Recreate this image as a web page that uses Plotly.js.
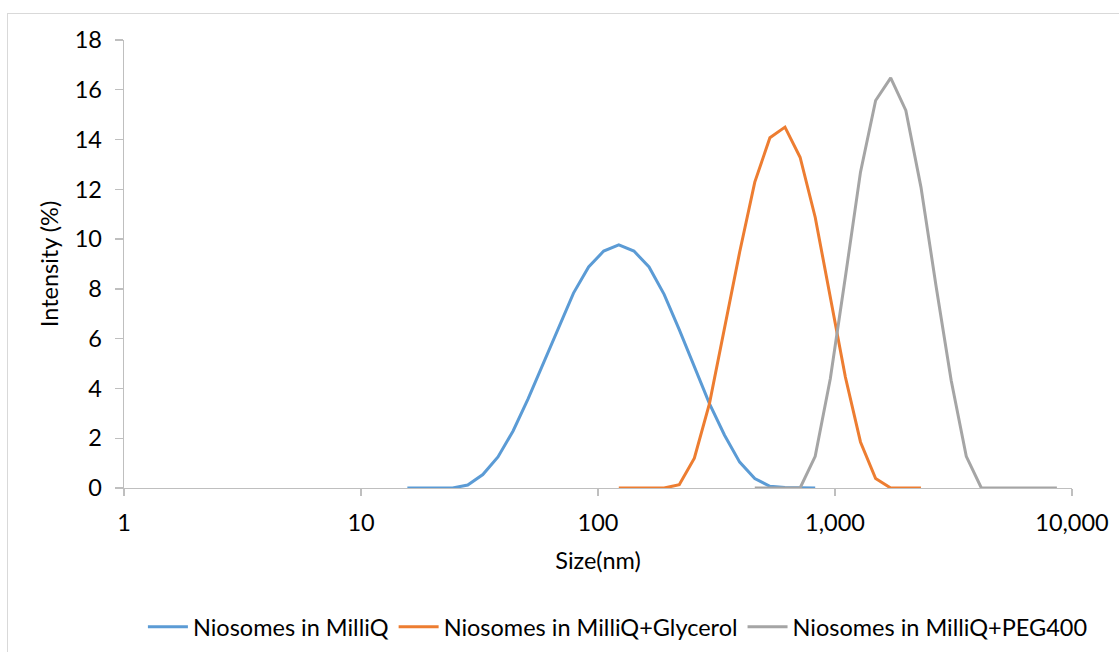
<!DOCTYPE html>
<html>
<head>
<meta charset="utf-8">
<script src="https://cdn.plot.ly/plotly-3.0.1.min.js"></script>
<style>
html,body{margin:0;padding:0;background:#fff;overflow:hidden;}
#chart{width:1119px;height:652px;}
#frame{position:absolute;left:7px;top:13px;width:1200px;height:800px;border:1px solid #d9d9d9;pointer-events:none;box-sizing:border-box;}
</style>
</head>
<body>
<div id="chart"></div>
<div id="frame"></div>
<script>
// Malvern size bins (nm)
const sizesBlue = [15.69,18.17,21.04,24.36,28.21,32.67,37.84,43.82,50.75,58.77,68.06,78.82,91.28,105.7,122.4,141.8,164.2,190.1,220.2,255.0,295.3,342.0,396.1,458.7,531.2,615.1,712.4,825.0];
const intensityBlue = [0,0,0,0,0.12,0.54,1.25,2.29,3.59,5.0,6.4,7.83,8.88,9.52,9.77,9.52,8.88,7.78,6.36,4.86,3.39,2.12,1.04,0.38,0.07,0.02,0,0];

const sizesOrange = [122.4,141.8,164.2,190.1,220.2,255.0,295.3,342.0,396.1,458.7,531.2,615.1,712.4,825.0,955.4,1106,1281,1484,1718,1990,2305];
const intensityOrange = [0,0,0,0,0.13,1.2,3.39,6.4,9.48,12.29,14.07,14.5,13.29,10.88,7.66,4.46,1.85,0.38,0,0,0];

const sizesGray = [458.7,531.2,615.1,712.4,825.0,955.4,1106,1281,1484,1718,1990,2305,2669,3091,3580,4145,4801,5560,6439,7456,8635];
const intensityGray = [0,0,0,0,1.27,4.39,8.48,12.69,15.57,16.48,15.17,12.09,8.12,4.33,1.27,0,0,0,0,0,0];

const names = ["Niosomes in MilliQ","Niosomes in MilliQ+Glycerol","Niosomes in MilliQ+PEG400"];
const colors = ["#5b9bd5","#ed7d31","#a5a5a5"];

const xTickVals = [1,10,100,1000,10000];
const xTickText = ["1","10","100","1,000","10,000"];

const FONT = "Lato, 'Open Sans', sans-serif";
const FS = 23.5;

const traces = [
  {x:sizesBlue,y:intensityBlue,name:names[0]},
  {x:sizesOrange,y:intensityOrange,name:names[1]},
  {x:sizesGray,y:intensityGray,name:names[2]}
].map((t,i)=>Object.assign(t,{type:"scatter",mode:"lines",line:{color:colors[i],width:3},hoverinfo:"x+y"}));

const layout = {
  width:1119,height:652,
  paper_bgcolor:"#ffffff",plot_bgcolor:"#ffffff",
  margin:{l:124,r:47,t:40,b:164,autoexpand:false},
  font:{family:FONT,size:FS,color:"#000"},
  showlegend:true,
  legend:{orientation:"h",x:0.521,xanchor:"center",y:-0.31,yanchor:"middle",font:{family:FONT,size:FS,color:"#000"},itemwidth:40,tracegroupgap:0},
  xaxis:{type:"log",range:[0,4],tickvals:xTickVals,ticktext:xTickText,showgrid:false,zeroline:false,
    showline:true,linecolor:"#bfbfbf",linewidth:1.3,ticks:"outside",ticklen:7,tickcolor:"#bfbfbf",tickwidth:1.3,
    ticklabelstandoff:6,automargin:false,
    tickfont:{family:FONT,size:FS,color:"#000"},
    title:{text:"Size(nm)",font:{family:FONT,size:FS,color:"#000"},standoff:18}},
  yaxis:{range:[0,18],dtick:2,tick0:0,showgrid:false,zeroline:false,
    showline:true,linecolor:"#bfbfbf",linewidth:1.3,ticks:"outside",ticklen:8,tickcolor:"#bfbfbf",tickwidth:1.3,
    ticklabelstandoff:8,automargin:false,
    tickfont:{family:FONT,size:FS,color:"#000"},
    title:{text:"Intensity (%)",font:{family:FONT,size:FS,color:"#000"},standoff:9}}
};

Plotly.newPlot("chart",traces,layout,{displayModeBar:false,staticPlot:true});
</script>
</body>
</html>
